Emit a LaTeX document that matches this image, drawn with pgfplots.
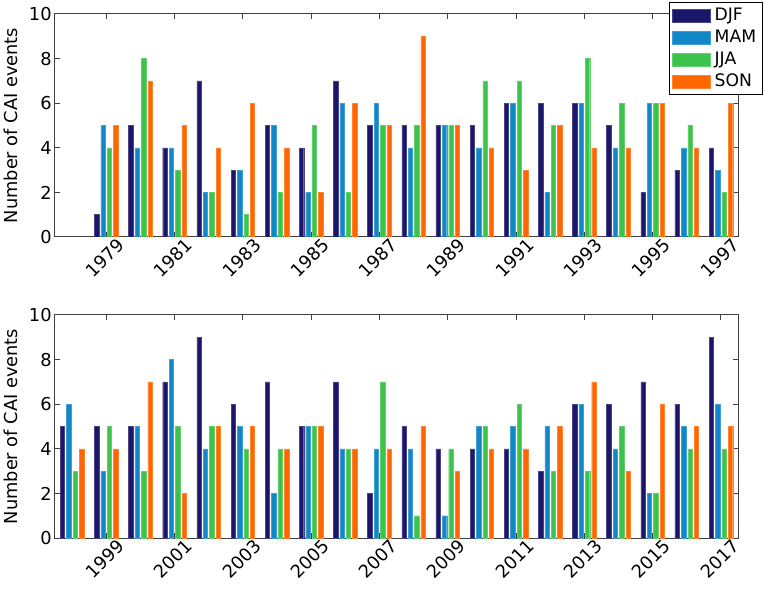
\documentclass[border=0pt]{standalone}
\usepackage{pgfplots}
\usepackage{pgfplotstable}
\pgfplotsset{compat=1.18}
\usepackage{fontspec}
\setmainfont{DejaVu Sans}
\definecolor{cDJF}{RGB}{28,22,106}
\definecolor{cMAM}{RGB}{18,135,200}
\definecolor{cJJA}{RGB}{60,195,75}
\definecolor{cSON}{RGB}{255,102,0}
\pgfplotstableread{
year djf mam jja son
1979 1 5 4 5
1980 5 4 8 7
1981 4 4 3 5
1982 7 2 2 4
1983 3 3 1 6
1984 5 5 2 4
1985 4 2 5 2
1986 7 6 2 6
1987 5 6 5 5
1988 5 4 5 9
1989 5 5 5 5
1990 5 4 7 4
1991 6 6 7 3
1992 6 2 5 5
1993 6 6 8 4
1994 5 4 6 4
1995 2 6 6 6
1996 3 4 5 4
1997 4 3 2 6
}\toptable
\pgfplotstableread{
year djf mam jja son
1998 5 6 3 4
1999 5 3 5 4
2000 5 5 3 7
2001 7 8 5 2
2002 9 4 5 5
2003 6 5 4 5
2004 7 2 4 4
2005 5 5 5 5
2006 7 4 4 4
2007 2 4 7 4
2008 5 4 1 5
2009 4 1 4 3
2010 4 5 5 4
2011 4 5 6 4
2012 3 5 3 5
2013 6 6 3 7
2014 6 4 5 3
2015 7 2 2 6
2016 6 5 4 5
2017 9 6 4 5
}\bottable
\pgfplotsset{
  myaxis/.style={
    anchor=south west,
    width=341.5pt, height=111.5pt, scale only axis,
    ymin=0, ymax=10, ytick={0,2,4,6,8,10},
    axis line style={draw=black!75, line width=0.5pt},
    tick style={draw=black!75, line width=0.5pt},
    major tick length=2.5pt,
    tick align=inside,
    xtick pos=both, ytick pos=both,
    font=\fontsize{8.9}{10.5}\selectfont,
    /pgf/number format/assume math mode=true,
    /pgf/number format/1000 sep={},
    xticklabel style={rotate=45, anchor=north east, xshift=4.5pt, yshift=-2.5pt, inner sep=1pt},
    yticklabel style={inner sep=1.5pt},
    ylabel={Number of CAI events},
    ylabel style={yshift=0.5pt},
    legend cell align=left,
  },
  mybar/.style={ybar, bar width=2.2pt, fill=#1, draw=#1!80!white, line width=0.2pt},
}
\begin{document}
\begin{tikzpicture}[x=1pt,y=1pt]
\useasboundingbox (0,0) rectangle (382.5,294.5);
\begin{axis}[myaxis, at={(27.5pt,176pt)},
  xmin=1977.5, xmax=1997.5, xtick={1979,1981,...,1997},
  legend style={at={(1.0366,1.0538)}, anchor=north east, draw=black, line width=0.5pt,
    fill=white, inner sep=1pt, row sep=0pt, font=\fontsize{8.6}{9}\selectfont,
    nodes={inner ysep=1.6pt, inner xsep=2.2pt}},
  legend image code/.code={\fill[#1] (0pt,-3.2pt) rectangle (19pt,3.2pt);},
]
\addplot[mybar=cDJF, bar shift=-4.8pt] table[x=year,y=djf]{\toptable};
\addplot[mybar=cMAM, bar shift=-1.6pt] table[x=year,y=mam]{\toptable};
\addplot[mybar=cJJA, bar shift=1.6pt] table[x=year,y=jja]{\toptable};
\addplot[mybar=cSON, bar shift=4.8pt] table[x=year,y=son]{\toptable};
\legend{DJF,MAM,JJA,SON}
\end{axis}
\begin{axis}[myaxis, at={(27.5pt,25.5pt)},
  xmin=1997.5, xmax=2017.5, xtick={1999,2001,...,2017},
]
\addplot[mybar=cDJF, bar shift=-4.8pt] table[x=year,y=djf]{\bottable};
\addplot[mybar=cMAM, bar shift=-1.6pt] table[x=year,y=mam]{\bottable};
\addplot[mybar=cJJA, bar shift=1.6pt] table[x=year,y=jja]{\bottable};
\addplot[mybar=cSON, bar shift=4.8pt] table[x=year,y=son]{\bottable};
\end{axis}
\end{tikzpicture}
\end{document}
